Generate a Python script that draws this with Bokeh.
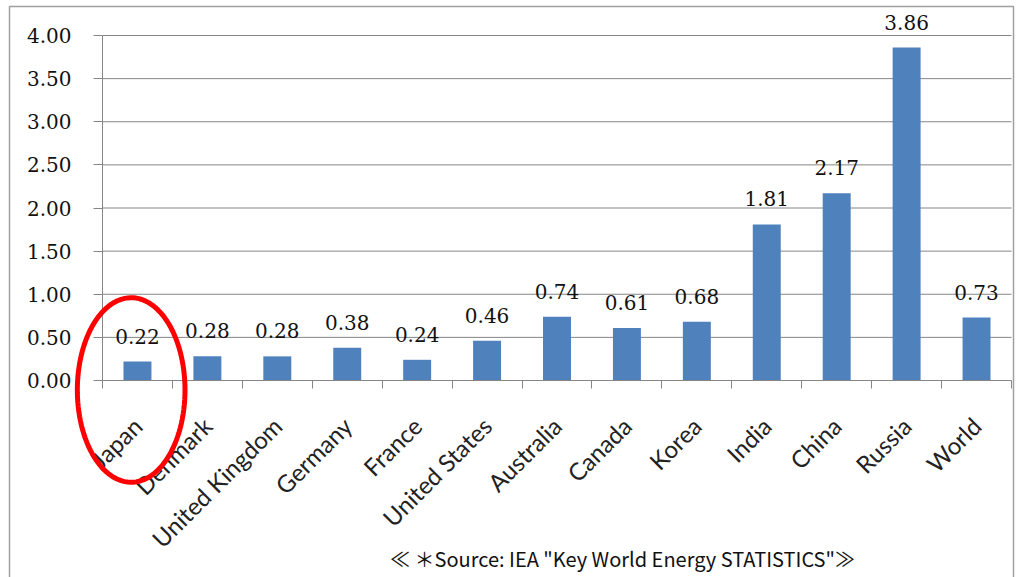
import numpy as np
from bokeh.plotting import figure
from bokeh.models import (ColumnDataSource, Range1d, FixedTicker, LabelSet, Label,
                          PolyAnnotation, BoxAnnotation, NumeralTickFormatter)
from bokeh.core.properties import value
from bokeh.embed import file_html
from bokeh.resources import INLINE

countries = ["Japan", "Denmark", "United Kingdom", "Germany", "France", "United States",
             "Australia", "Canada", "Korea", "India", "China", "Russia", "World"]
values = [0.22, 0.28, 0.28, 0.38, 0.24, 0.46, 0.74, 0.61, 0.68, 1.81, 2.17, 3.86, 0.73]
y_ticks = [0.0, 0.5, 1.0, 1.5, 2.0, 2.5, 3.0, 3.5, 4.0]
source_note = '\u226a \uff0aSource: IEA "Key World Energy STATISTICS"\u226b'

n = len(countries)
centers = [i + 0.5 for i in range(n)]
bounds = list(range(n + 1))

src = ColumnDataSource(dict(x=centers, top=values, label=[f"{v:.2f}" for v in values]))

GRAY = "#868686"
SERIF = "DejaVu Serif"
SANS = "Lato"
NOTE_FONT = "Noto Sans CJK JP"

# frame covers the whole canvas; axes are pinned at x=0 / y=0
x_px = 909 / n          # pixels per category
y_px = 345 / 4.0        # pixels per unit
p = figure(width=1018, height=577,
           x_range=Range1d(-102 / x_px, n + 7 / x_px),
           y_range=Range1d(-197 / y_px, 4.0 + 35 / y_px),
           output_backend="svg", toolbar_location=None,
           min_border_left=0, min_border_right=0, min_border_top=0, min_border_bottom=0)
p.outline_line_color = None
p.background_fill_color = "white"
p.border_fill_color = "white"
p.xgrid.grid_line_color = None
p.ygrid.grid_line_color = None

# horizontal gridlines over the category span
p.segment(x0=[0] * len(y_ticks), x1=[n] * len(y_ticks), y0=y_ticks, y1=y_ticks,
          line_color=GRAY, line_width=1)

p.vbar(x="x", top="top", bottom=0, width=0.40, source=src,
       fill_color="#4F81BD", line_color=None)

# y axis
p.yaxis.fixed_location = 0
p.yaxis.bounds = (0, 4)
p.yaxis.ticker = FixedTicker(ticks=y_ticks)
p.yaxis.formatter = NumeralTickFormatter(format="0.00")
p.yaxis.major_label_text_font = SERIF
p.yaxis.major_label_text_font_size = "20px"
p.yaxis.major_label_text_color = "#111111"
p.yaxis.axis_line_color = GRAY
p.yaxis.major_tick_line_color = GRAY
p.yaxis.major_tick_out = 9
p.yaxis.major_tick_in = 0
p.yaxis.minor_tick_line_color = None
p.yaxis.major_label_standoff = 22

# x axis
p.xaxis.fixed_location = 0
p.xaxis.bounds = (0, n)
p.xaxis.ticker = FixedTicker(ticks=centers, minor_ticks=bounds)
p.xaxis.major_label_overrides = {c: name for c, name in zip(centers, countries)}
p.xaxis.major_tick_out = 0
p.xaxis.major_tick_in = 0
p.xaxis.minor_tick_out = 8
p.xaxis.minor_tick_in = 0
p.xaxis.minor_tick_line_color = GRAY
p.xaxis.axis_line_color = GRAY
p.xaxis.major_label_orientation = np.pi / 4
p.xaxis.major_label_standoff = 33
p.xaxis.major_label_text_font = SANS
p.xaxis.major_label_text_font_size = "24px"
p.xaxis.major_label_text_color = "#222222"

labels = LabelSet(x="x", y="top", text="label", source=src, y_offset=18,
                  text_align="center", text_baseline="alphabetic",
                  text_font=value(SERIF), text_font_size=value("20px"),
                  text_color="#111111")
p.add_layout(labels)

# red ellipse around Japan
t = np.linspace(0, 2 * np.pi, 120)
cx, cy, rx, ry = centers[0] - 0.09, -0.11, 0.77, 1.07
ell = PolyAnnotation(xs=list(cx + rx * np.cos(t)), ys=list(cy + ry * np.sin(t)),
                     fill_color=None, line_color="#FF0000", line_width=5, line_alpha=1.0)
p.add_layout(ell)

# outer chart frame
frame = BoxAnnotation(left=9, right=1013, top=6, bottom=700,
                      left_units="canvas", right_units="canvas",
                      top_units="canvas", bottom_units="canvas",
                      fill_color=None, line_color="#a0a0a0", line_width=1.5, line_alpha=1.0)
p.add_layout(frame)

note = Label(x=622, y=558, x_units="canvas", y_units="canvas", text=source_note,
             text_align="center", text_baseline="alphabetic",
             text_font=NOTE_FONT, text_font_size="20px", text_color="#111111")
p.add_layout(note)

open("out.html", "w").write(file_html(p, INLINE))
